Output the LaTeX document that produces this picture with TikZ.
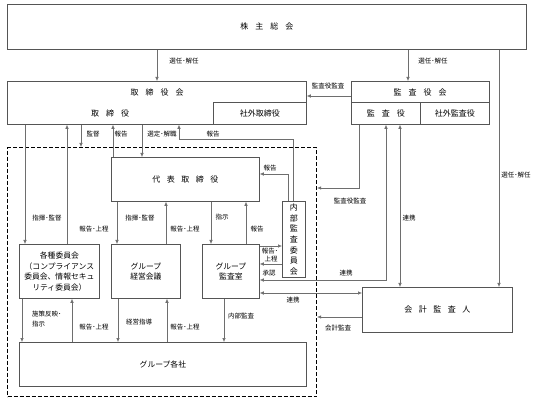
\documentclass[tikz,border=0pt]{standalone}
\usepackage{fontspec}
\setmainfont{Noto Sans CJK JP}
\usetikzlibrary{arrows.meta}
\definecolor{boxc}{HTML}{555555}
\definecolor{linec}{HTML}{6E6E6E}
\newcommand\gpA{\hspace{7pt}}
\newcommand\gpB{\hspace{6.5pt}}
\tikzset{
  box/.style={draw=boxc, line width=0.8pt, inner sep=0pt, anchor=north west},
  dbox/.style={draw=black, line width=1.1pt, dash pattern=on 4pt off 2pt, inner sep=0pt, anchor=north west},
  ttl/.style={font=\fontsize{8}{10}\selectfont, inner sep=0pt},
  btxt/.style={font=\fontsize{7.8}{10.5}\selectfont, inner sep=0pt, align=center},
  lbl/.style={font=\fontsize{6.5}{8}\selectfont, inner sep=0pt},
  conn/.style={draw=linec, line width=0.6pt},
  arr/.style={conn, -{Latex[length=4pt,width=3.5pt]}},
  darr/.style={conn, {Latex[length=4pt,width=3.5pt]}-{Latex[length=4pt,width=3.5pt]}},
}
\begin{document}
\begin{tikzpicture}[x=1pt,y=-1pt]
\useasboundingbox (0,0) rectangle (533,398);

% boxes
\node[box, minimum width=519pt, minimum height=45pt] (kabu) at (7,4) {};
\node[ttl] (kabuT) at (kabu.center) {株\gpA 主\gpA 総\gpA 会};

\node[box, minimum width=299pt, minimum height=43pt] (tk) at (7,81) {};
\node[ttl] (tkT) at (157,92) {取\gpA 締\gpA 役\gpA 会};
\node[ttl] (tkS) at (110,113) {取\gpA 締\gpA 役};
\node[box, minimum width=93pt, minimum height=22pt] (tksub) at (213,102) {};
\node[ttl] (tksubT) at (tksub.center) {社外取締役};

\node[box, minimum width=138pt, minimum height=43pt] (kk) at (351,81) {};
\node[ttl] (kkT) at (420,92) {監\gpA 査\gpA 役\gpA 会};
\node[box, minimum width=69pt, minimum height=22pt] (kansa) at (351,102) {};
\node[ttl] (kansaT) at (kansa.center) {監\gpA 査\gpA 役};
\node[box, minimum width=69pt, minimum height=22pt] (kksub) at (420,102) {};
\node[ttl] (kksubT) at (kksub.center) {社外監査役};

\node[dbox, minimum width=309pt, minimum height=249pt] (grp) at (7,147) {};

\node[box, minimum width=148pt, minimum height=44pt] (dt) at (111,157) {};
\node[ttl] (dtT) at (dt.center) {代\gpB 表\gpB 取\gpB 締\gpB 役};

\node[box, minimum width=80pt, minimum height=54pt] (ks) at (19,244) {};
\node[btxt] (ksT) at (ks.center) {各種委員会\\（コンプライアンス\\委員会、情報セキュ\\リティ委員会）};

\node[box, minimum width=69pt, minimum height=54pt] (ke) at (111,244) {};
\node[btxt] (keT) at (ke.center) {グループ\\経営会議};

\node[box, minimum width=57pt, minimum height=54pt] (ka) at (202,244) {};
\node[btxt] (kaT) at (ka.center) {グループ\\監査室};

\node[box, minimum width=23pt, minimum height=76pt] (nb) at (282,201) {};
\node[font=\fontsize{8}{10.7}\selectfont, inner sep=0pt, align=center] (nbT) at (nb.center) {内\\部\\監\\査\\委\\員\\会};

\node[box, minimum width=287pt, minimum height=44pt] (gk) at (19,342) {};
\node[btxt] (gkT) at (gk.center) {グループ各社};

\node[box, minimum width=150pt, minimum height=45pt] (ka2) at (362,287) {};
\node[ttl] (ka2T) at (ka2.center) {会\gpB 計\gpB 監\gpB 査\gpB 人};

% shareholders
\draw[arr] (157,0 |- kabu.south) -- (157,0 |- tk.north);
\node[lbl] at (184,61) {選任･解任};
\draw[arr] (408,0 |- kabu.south) -- (408,0 |- kk.north);
\node[lbl] at (433,61) {選任･解任};
\draw[arr] (499,0 |- kabu.south) -- (499,0 |- ka2.north);
\node[lbl] at (516,175) {選任･解任};

% audit board -> board
\draw[arr] (kk.west |- 0,96) -- (tk.east |- 0,96);
\node[lbl] at (328,86) {監査役監査};

% board <-> dashed area
\draw[arr] (81,0 |- tk.south) -- (81,0 |- grp.north);
\node[lbl] at (93,134) {監督};
\draw[arr] (113,0 |- dt.north) -- (113,0 |- tk.south);
\node[lbl] at (121,134) {報告};
\draw[arr] (142,0 |- tk.south) -- (142,0 |- dt.north);
\node[lbl] at (162,134) {選定･解職};
\draw[arr] (293,0 |- nb.north) -- (293,139) -- (179,139) -- (179,0 |- tk.south);
\node[lbl] at (213,134) {報告};
\draw[arr] (288,0 |- nb.north) -- (288,174) -- (dt.east |- 0,174);
\node[lbl] at (270,168) {報告};

\draw[arr] (25,0 |- tk.south) -- (25,0 |- ks.north);
\node[lbl] at (47,218) {指揮･監督};
\draw[arr] (67,0 |- ks.north) -- (67,0 |- tk.south);
\node[lbl] at (94,229) {報告･上程};

% representative director -> groups
\draw[arr] (117,0 |- dt.south) -- (117,0 |- ke.north);
\node[lbl] at (140,218) {指揮･監督};
\draw[arr] (166,0 |- ke.north) -- (166,0 |- dt.south);
\node[lbl] at (185,229) {報告･上程};
\draw[arr] (211,0 |- dt.south) -- (211,0 |- ka.north);
\node[lbl] at (222,217) {指示};
\draw[arr] (246,0 |- ka.north) -- (246,0 |- dt.south);
\node[lbl] at (257,229) {報告};

% audit office <-> internal audit committee
\draw[arr] (ka.east |- 0,246) -- (nb.west |- 0,246);
\node[lbl] at (270,251) {報告･};
\node[lbl] at (271,259) {上程};
\draw[arr] (nb.west |- 0,264) -- (ka.east |- 0,264);
\node[lbl] at (269,273) {承認};

% cooperation
\draw[darr] (386,0 |- kansa.south) -- (386,280) -- (ka.east |- 0,280);
\node[lbl] at (346,273) {連携};
\draw[darr] (ka.east |- 0,293) -- (ka2.west |- 0,293);
\node[lbl] at (293,300) {連携};
\draw[darr] (400,0 |- kansa.south) -- (400,0 |- ka2.north);
\node[lbl] at (409,218) {連携};

\draw[arr] (359,0 |- kansa.south) -- (359,188) -- (grp.east |- 0,188);
\node[lbl] at (350,201) {監査役監査};
\draw[arr] (ka2.west |- 0,317) -- (grp.east |- 0,317);
\node[lbl] at (338,328) {会計監査};

% to group companies
\draw[arr] (22,0 |- ks.south) -- (22,0 |- gk.north);
\node[lbl, align=left, anchor=north west, font=\fontsize{6.5}{10}\selectfont] at (32,311) {施策反映･\\指示};
\draw[arr] (72,0 |- gk.north) -- (72,0 |- ks.south);
\node[lbl] at (94,327) {報告･上程};
\draw[arr] (118,0 |- ke.south) -- (118,0 |- gk.north);
\node[lbl] at (139,322) {経営指導};
\draw[arr] (167,0 |- gk.north) -- (167,0 |- ke.south);
\node[lbl] at (185,327) {報告･上程};
\draw[arr] (224,0 |- ka.south) -- (224,0 |- gk.north);
\node[lbl] at (241,316) {内部監査};
\end{tikzpicture}
\end{document}
